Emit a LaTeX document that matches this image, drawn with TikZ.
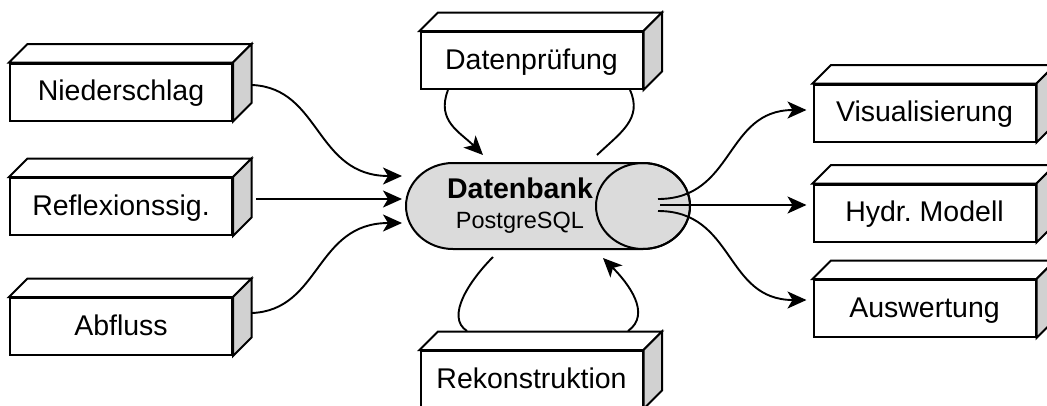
\documentclass[tikz,border=0pt]{standalone}
\usepackage{fontspec}
\setmainfont{Liberation Sans}
\usetikzlibrary{arrows.meta,calc}
\definecolor{sidegray}{gray}{0.82}
\definecolor{cylgray}{gray}{0.86}
\frenchspacing
\begin{document}
\begin{tikzpicture}[x=1pt,y=1pt,
  cube/.style={draw, line width=2pt, fill=white, minimum width=222pt, minimum height=57pt,
    inner sep=0pt, text height=19pt, text depth=2pt, font=\fontsize{28.5}{34}\selectfont},
  face/.style={draw, line width=2pt},
  conn/.style={line width=1.9pt},
  arr/.style={conn, -{Stealth[length=19pt,width=17pt,inset=5pt]}},
  dbtitle/.style={anchor=base, inner sep=0pt, font=\fontsize{28.5}{34}\selectfont\bfseries},
  dbsub/.style={anchor=base, inner sep=0pt, font=\fontsize{23.5}{28}\selectfont}
]
\useasboundingbox (0,0) rectangle (1047,-405);

% cylinder (database)
\draw[line width=2pt, fill=cylgray] (643,-163) -- (453,-163)
  arc[start angle=90, end angle=270, x radius=47, y radius=43] -- (643,-249)
  arc[start angle=-90, end angle=90, x radius=47, y radius=43] -- cycle;
\draw[line width=2pt] (643,-206) ellipse [x radius=47, y radius=43];
\node[dbtitle] (db) at (520,-198) {Datenbank};
\node[dbsub] (dbs) at (520,-228) {PostgreSQL};

% boxes
\node[cube] (nied) at (121,-92) {Niederschlag};
\node[cube] (refl) at (121,-206.5) {Reflexionssig.};
\node[cube] (abfl) at (121,-326.5) {Abfluss};
\node[cube] (dp) at (531.5,-60.5) {Datenprüfung};
\node[cube] (rk) at (531.5,-379.5) {Rekonstruktion};
\node[cube] (vis) at (924.5,-113) {Visualisierung};
\node[cube] (hyd) at (924.5,-213) {Hydr. Modell};
\node[cube] (ausw) at (924.5,-308.5) {Auswertung};

\foreach \n in {nied,refl,abfl,dp,rk,vis,hyd,ausw}{
  \draw[face, fill=white] (\n.north west) -- ++(18.5,18.5) -- ($(\n.north east)+(18.5,18.5)$) -- (\n.north east) -- cycle;
  \draw[face, fill=sidegray] (\n.north east) -- ++(18.5,18.5) -- ($(\n.south east)+(18.5,18.5)$) -- (\n.south east) -- cycle;
}

% connector end points at the database
\coordinate (in1) at (402,-176);
\coordinate (in2) at (402,-199);
\coordinate (in3) at (402,-223);
\coordinate (top1) at (483,-155);
\coordinate (top2) at (597,-155);
\coordinate (bot1) at (493,-257);
\coordinate (bot2) at (603,-258);
\coordinate (out1) at (658,-199);
\coordinate (out2) at (660,-205);
\coordinate (out3) at (658,-211);

% inputs
\draw[arr] ([shift={(19,7)}]nied.east) .. controls +(69,-3) and +(-87,0) .. (in1);
\draw[arr] ([shift={(23,7.5)}]refl.east) -- (in2);
\draw[arr] ([shift={(19,13.5)}]abfl.east) .. controls +(69,3) and +(-87,0) .. (in3);

% Datenpruefung loop
\draw[arr] ([shift={(-83.5,0)}]dp.south) .. controls +(-12,-31) and +(-23,23) .. (top1);
\draw[conn] ([shift={(98.5,0)}]dp.south) .. controls +(13,-29) and +(23,22) .. (top2);

% Rekonstruktion loop
\draw[conn] ([shift={(-64.5,19)}]rk.north) .. controls +(-22,14) and +(-23,-23) .. (bot1);
\draw[arr] ([shift={(96.5,19)}]rk.north) .. controls +(24,17) and +(25,-25) .. (bot2);

% outputs
\draw[arr] (out1) .. controls +(77,0) and +(-82,0) .. ([shift={(-6,3)}]vis.west);
\draw[arr] (out2) -- ([shift={(-6,8)}]hyd.west);
\draw[arr] (out3) .. controls +(77,0) and +(-82,0) .. ([shift={(-6,8.5)}]ausw.west);
\end{tikzpicture}
\end{document}
